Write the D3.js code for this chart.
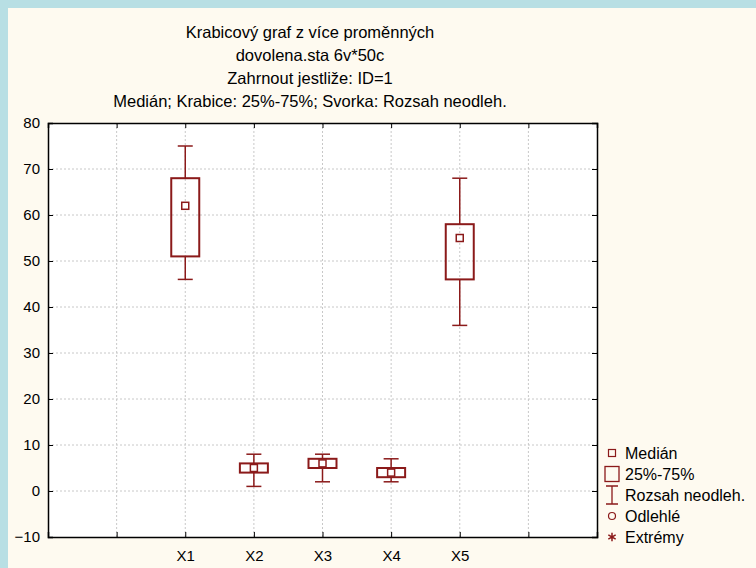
<!DOCTYPE html>
<html>
<head>
<meta charset="utf-8">
<script src="https://cdn.jsdelivr.net/npm/d3@7"></script>
<style>
  body { margin: 0; background: #b8dfe4; }
  svg { display: block; font-family: "Liberation Sans", Arial, sans-serif; }
</style>
</head>
<body>
<div id="chart"></div>
<script>
// data
var categories = ["X1", "X2", "X3", "X4", "X5"];
var whiskerLow  = [46, 1, 2, 2, 36];
var boxLow      = [51, 4, 5, 3, 46];
var medians     = [62, 5, 6, 4, 55];
var boxHigh     = [68, 6, 7, 5, 58];
var whiskerHigh = [75, 8, 8, 7, 68];
var yTicks = [-10, 0, 10, 20, 30, 40, 50, 60, 70, 80];
var titleLines = [
  "Krabicový graf z více proměnných",
  "dovolena.sta 6v*50c",
  "Zahrnout jestliže: ID=1",
  "Medián; Krabice: 25%-75%; Svorka: Rozsah neodleh."
];
var legendLabels = ["Medián", "25%-75%", "Rozsah neodleh.", "Odlehlé", "Extrémy"];

var W = 756, H = 568;
var red = "#8b1a1a";
var margin = {top: 123, left: 48, right: 159, bottom: 31};
var width = W - margin.left - margin.right,
    height = H - margin.top - margin.bottom;

var svg = d3.select("#chart").append("svg")
    .attr("width", W).attr("height", H);

// cream panel inside the blue frame
svg.append("rect").attr("x", 8).attr("y", 8).attr("width", W - 8).attr("height", H - 8)
    .attr("fill", "#fefaf0");

var g = svg.append("g").attr("transform", "translate(" + margin.left + "," + margin.top + ")");

var x = d3.scaleLinear().domain([0, 8]).range([0, width]);
var y = d3.scaleLinear().domain([-10, 80]).range([height, 0]);

g.append("rect").attr("width", width).attr("height", height).attr("fill", "#ffffff");

// grid
var xGrid = d3.range(1, 8);
g.append("g").selectAll("line").data(xGrid).enter().append("line")
    .attr("x1", d => x(d)).attr("x2", d => x(d))
    .attr("y1", 0).attr("y2", height)
    .attr("stroke", "#c8c8c8").attr("stroke-dasharray", "2,2");
g.append("g").selectAll("line").data(yTicks.slice(1, -1)).enter().append("line")
    .attr("x1", 0).attr("x2", width)
    .attr("y1", d => y(d)).attr("y2", d => y(d))
    .attr("stroke", "#c8c8c8").attr("stroke-dasharray", "2,2");

// axes: ticks on all four sides, pointing inwards
var tickLen = 5;
var xLabel = function (d) { return (d >= 2 && d <= 6) ? categories[d - 2] : ""; };
var axBottom = g.append("g").attr("transform", "translate(0," + height + ")")
    .call(d3.axisBottom(x).tickValues(xGrid).tickSize(-tickLen).tickPadding(13).tickFormat(xLabel));
var axTop = g.append("g")
    .call(d3.axisTop(x).tickValues(xGrid).tickSize(-tickLen).tickFormat(""));
var axLeft = g.append("g")
    .call(d3.axisLeft(y).tickValues(yTicks).tickSize(-tickLen).tickPadding(8));
var axRight = g.append("g").attr("transform", "translate(" + width + ",0)")
    .call(d3.axisRight(y).tickValues(yTicks).tickSize(-tickLen).tickFormat(""));
[axBottom, axTop, axLeft, axRight].forEach(function (a) {
  a.select(".domain").attr("stroke", "#000").attr("stroke-width", 1.5);
  a.selectAll(".tick line").attr("stroke", "#000");
  a.selectAll("text").attr("font-size", 15).attr("fill", "#000")
      .attr("font-family", "'Liberation Sans', Arial, sans-serif");
});

// boxes
var idx = d3.range(categories.length);
var bw = 28, cap = 15, ms = 7;
var boxes = g.append("g").selectAll("g").data(idx).enter().append("g");
boxes.append("line")
    .attr("x1", i => x(i + 2)).attr("x2", i => x(i + 2))
    .attr("y1", i => y(whiskerHigh[i])).attr("y2", i => y(boxHigh[i]))
    .attr("stroke", red).attr("stroke-width", 1.5);
boxes.append("line")
    .attr("x1", i => x(i + 2)).attr("x2", i => x(i + 2))
    .attr("y1", i => y(boxLow[i])).attr("y2", i => y(whiskerLow[i]))
    .attr("stroke", red).attr("stroke-width", 1.5);
boxes.append("line")
    .attr("x1", i => x(i + 2) - cap / 2).attr("x2", i => x(i + 2) + cap / 2)
    .attr("y1", i => y(whiskerHigh[i])).attr("y2", i => y(whiskerHigh[i]))
    .attr("stroke", red).attr("stroke-width", 1.5);
boxes.append("line")
    .attr("x1", i => x(i + 2) - cap / 2).attr("x2", i => x(i + 2) + cap / 2)
    .attr("y1", i => y(whiskerLow[i])).attr("y2", i => y(whiskerLow[i]))
    .attr("stroke", red).attr("stroke-width", 1.5);
boxes.append("rect")
    .attr("x", i => x(i + 2) - bw / 2).attr("width", bw)
    .attr("y", i => y(boxHigh[i])).attr("height", i => y(boxLow[i]) - y(boxHigh[i]))
    .attr("fill", "none").attr("stroke", red).attr("stroke-width", 2);
boxes.append("rect")
    .attr("x", i => x(i + 2) - ms / 2).attr("width", ms)
    .attr("y", i => y(medians[i]) - ms / 2).attr("height", ms)
    .attr("fill", "#fff").attr("stroke", red).attr("stroke-width", 1.5);

// title
svg.append("g").selectAll("text").data(titleLines).enter().append("text")
    .attr("x", 310).attr("y", (d, i) => 38 + i * 23)
    .attr("text-anchor", "middle").attr("font-size", 16.5).attr("fill", "#000")
    .text(d => d);

// legend
var lx = 612, ly = 453, lstep = 21;
var leg = svg.append("g");
leg.selectAll("text").data(legendLabels).enter().append("text")
    .attr("x", lx + 13).attr("y", (d, i) => ly + i * lstep + 6)
    .attr("font-size", 16).attr("fill", "#000").text(d => d);
leg.append("rect").attr("x", lx - 3.5).attr("y", ly - 3.5).attr("width", 7).attr("height", 7)
    .attr("fill", "none").attr("stroke", red).attr("stroke-width", 1.2);
leg.append("rect").attr("x", lx - 7).attr("y", ly + lstep - 7.5).attr("width", 14).attr("height", 15)
    .attr("fill", "none").attr("stroke", red).attr("stroke-width", 1.3);
var iy = ly + 2 * lstep;
leg.append("path")
    .attr("d", "M" + (lx - 6) + "," + (iy - 9) + "H" + (lx + 6) + "M" + lx + "," + (iy - 9) + "V" + (iy + 9) + "M" + (lx - 6) + "," + (iy + 9) + "H" + (lx + 6))
    .attr("fill", "none").attr("stroke", red).attr("stroke-width", 1.3);
leg.append("circle").attr("cx", lx).attr("cy", ly + 3 * lstep).attr("r", 3.5)
    .attr("fill", "none").attr("stroke", red).attr("stroke-width", 1.2);
leg.append("path")
    .attr("transform", "translate(" + lx + "," + (ly + 4 * lstep) + ")")
    .attr("d", d3.symbol().type(d3.symbolAsterisk).size(50))
    .attr("fill", "none").attr("stroke", red).attr("stroke-width", 1.5);
</script>
</body>
</html>
